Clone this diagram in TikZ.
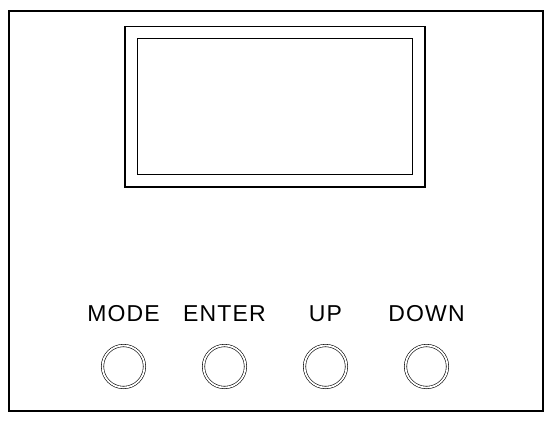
\documentclass[tikz,border=0pt]{standalone}
\usepackage{fontspec}
\setmainfont{Liberation Sans}
\newfontfamily\keyfont[LetterSpace=5]{Liberation Sans}
\usetikzlibrary{positioning}
\tikzset{
    button/.style={circle,draw,line width=0.6pt,double,double distance=1.8pt,minimum size=42pt,inner sep=0pt},
    keylabel/.style={font=\keyfont\fontsize{23}{23}\selectfont,inner sep=0pt,anchor=base}
}

\begin{document}
\begin{tikzpicture}[x=1pt,y=-1pt]
            \useasboundingbox (0,0) rectangle (551,424);
            \draw[line width=2.3pt] (9,11) rectangle (543,411);
            \draw[line width=1.3pt] (125,26.5) rectangle (425,187);
            \draw[line width=1.3pt] (137.5,38.5) rectangle (412.5,174.5);
            \foreach \name/\lbl/\x in {mode/MODE/123.5,enter/ENTER/224.5,up/UP/325.5,down/DOWN/426.5}{
                \node[button] (\name) at (\x,366.5) {};
                \node[keylabel] (\name-lbl) at (\x,321) {\lbl};
            }
        \end{tikzpicture}
\end{document}
